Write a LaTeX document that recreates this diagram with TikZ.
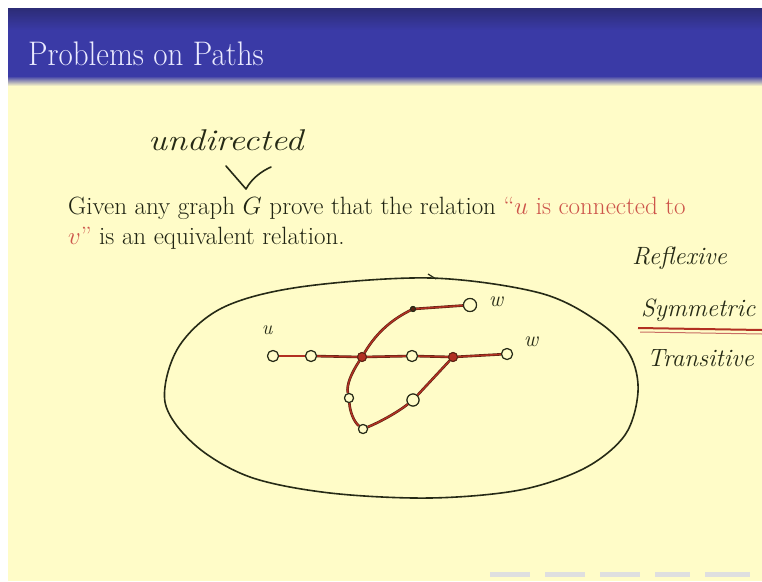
\documentclass[tikz,border=0pt]{standalone}
\usepackage{fontspec}
\usepackage{graphicx}
\usetikzlibrary{calc}
\definecolor{bgyellow}{RGB}{255,252,200}
\definecolor{bannertop}{RGB}{44,44,118}
\definecolor{bannermain}{RGB}{58,58,166}
\definecolor{redtext}{RGB}{205,85,75}
\definecolor{ink}{RGB}{38,42,22}
\definecolor{redink}{RGB}{178,48,34}
\definecolor{darkred}{RGB}{90,35,20}
\begin{document}
\begin{tikzpicture}[x=1pt,y=-1pt,
  hand/.style={font=\fontsize{26}{26}\selectfont\itshape, text=ink, inner sep=0pt},
  side/.style={hand, anchor=base west, font=\fontsize{25}{25}\selectfont\itshape},
  body/.style={font=\fontsize{25}{28}\selectfont, text=ink!85!black, inner sep=0pt, anchor=base west},
  vtx/.style={circle, draw=ink, line width=1.1pt, minimum size=11pt, inner sep=0pt, fill=bgyellow},
  fvtx/.style={circle, draw=darkred, line width=1pt, minimum size=9pt, inner sep=0pt, fill=redink},
  svtx/.style={circle, draw=ink, line width=1pt, minimum size=5pt, inner sep=0pt, fill=darkred},
  edge/.style={draw=redink, line width=1.4pt, preaction={draw=darkred, line width=2.6pt}},
  pen/.style={draw=ink, line width=1.6pt, line cap=round, line join=round}]
\useasboundingbox (0,0) rectangle (762,581);
\clip (0,0) rectangle (762,581);
% backgrounds
\fill[white] (0,0) rectangle (762,581);
\fill[bgyellow] (8,8) rectangle (762,581);
\fill[bannermain] (8,8) rectangle (762,78);
\shade[top color=bannertop, bottom color=bannermain] (8,8) rectangle (762,30);
\shade[top color=bannermain, bottom color=bgyellow] (8,76) rectangle (762,86);
\node[font=\fontsize{31}{31}\selectfont, text=white!92!blue, anchor=base west, inner sep=0pt] (title) at (28,65) {\scalebox{1}[1.1]{Problems on Paths}};
% body text
\node[body] (line1) at (68,214) {Given any graph $G$ prove that the relation \textcolor{redtext}{``$u$ is connected to}};
\node[body] (line2) at (68,244) {\textcolor{redtext}{$v$''} is an equivalent relation.};
% handwritten annotations
\node[hand, anchor=base west, font=\fontsize{30}{30}\selectfont\itshape] (undir) at (148,150) {\scalebox{1.2}[1]{undirected}};
\draw[pen] (226,166) -- (246,189) .. controls (252,178) and (262,171) .. (271,167);
\node[side] (refl) at (632,264) {Reflexive};
\node[side] (symm) at (641,316) {Symmetric};
\node[side] (trans) at (647,366) {Transitive};
\coordinate (ul1) at (638,328);
\coordinate (ul2) at (762,330);
\draw[draw=redink, line width=2pt] (ul1) -- (ul2);
\draw[draw=redink!70, line width=1pt] ($(ul1)+(2,4)$) -- ($(ul2)+(0,4)$);
% blob
\draw[draw=ink, line width=1.6pt] plot[smooth cycle, tension=0.55] coordinates {
 (165,402) (178,348) (222,308) (300,287) (430,278) (540,293) (600,323) (630,355)
 (638,392) (625,435) (585,468) (520,490) (430,498) (330,493) (250,477) (195,445)};
\draw[draw=ink, line width=1.2pt] (428,274) -- (436,279);
% graph
\node[vtx] (u) at (273,356) {};
\node[vtx] (a) at (311,356) {};
\node[fvtx] (c) at (362,357) {};
\node[vtx] (d) at (412,356) {};
\node[fvtx] (e) at (453,357) {};
\node[vtx] (w) at (507,354) {};
\node[svtx] (p) at (413,309) {};
\node[vtx, minimum size=13pt] (q) at (470,305) {};
\node[vtx, minimum size=9pt] (l) at (349,398) {};
\node[vtx, minimum size=9pt] (b) at (363,429) {};
\node[vtx, minimum size=12pt] (r) at (413,400) {};
\node[hand, font=\fontsize{20}{20}\selectfont\itshape] (ulab) at (267,330) {u};
\node[hand, font=\fontsize{22}{22}\selectfont\itshape] (wlab) at (531,342) {w};
\node[hand, font=\fontsize{22}{22}\selectfont\itshape] (qlab) at (496,302) {w};
\path[edge] (u) -- (a);
\path[edge] (a) -- (c);
\path[edge] (c) -- (d);
\path[edge] (d) -- (e);
\path[edge] (e) -- (w);
\path[edge] (c) .. controls (378,330) and (395,318) .. (p);
\path[edge] (p) -- (q);
\path[edge] (c) .. controls (352,372) and (346,385) .. (l);
\path[edge] (l) .. controls (350,412) and (354,422) .. (b);
\path[edge] (b) .. controls (380,422) and (398,412) .. (r);
\path[edge] (r) -- (e);
% redraw nodes on top
\node[vtx] at (u) {};
\node[vtx] at (a) {};
\node[fvtx] at (c) {};
\node[vtx] at (d) {};
\node[fvtx] at (e) {};
\node[vtx] at (w) {};
\node[svtx] at (p) {};
\node[vtx, minimum size=13pt] at (q) {};
\node[vtx, minimum size=9pt] at (l) {};
\node[vtx, minimum size=9pt] at (b) {};
\node[vtx, minimum size=12pt] at (r) {};
% faint navigation bar
\foreach \xa/\xb in {490/530, 545/585, 600/640, 655/690, 705/750}
  \fill[gray!25] (\xa,572) rectangle (\xb,577);
\end{tikzpicture}
\end{document}
